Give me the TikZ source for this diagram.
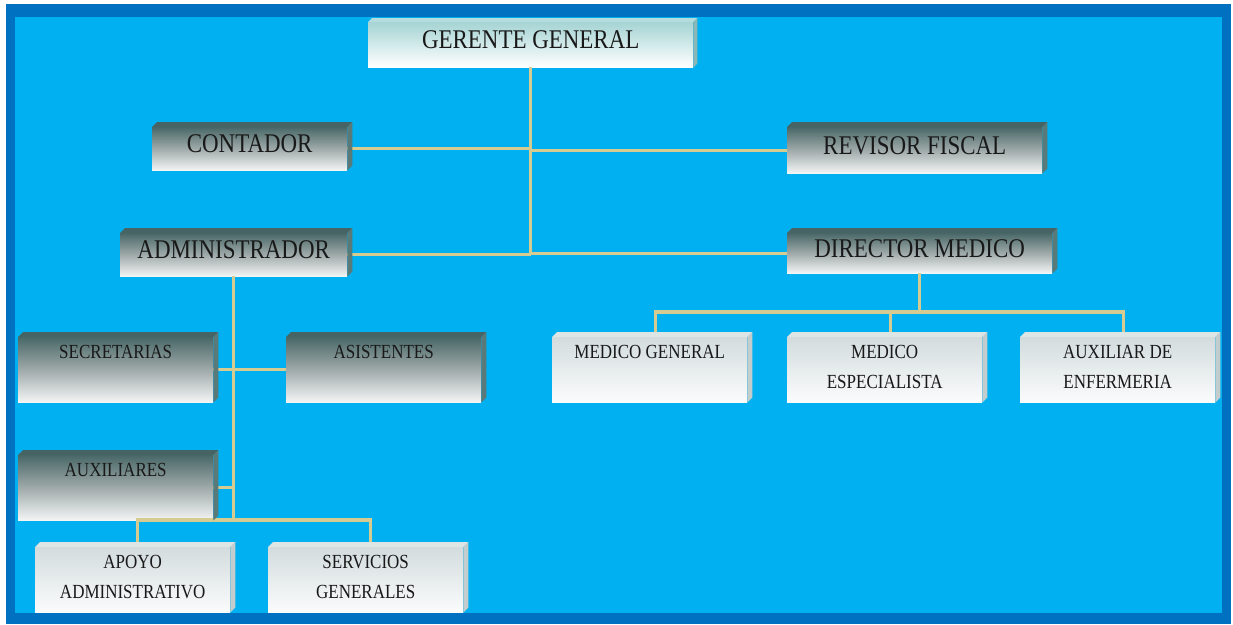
\documentclass[tikz,border=0pt]{standalone}
\usepackage{fontspec}
\setmainfont[FakeStretch=0.85]{Liberation Serif}
\usetikzlibrary{calc}
\definecolor{framedark}{HTML}{0070C0}
\definecolor{framelight}{HTML}{00B0F0}
\definecolor{linetan}{HTML}{D6CC92}
\definecolor{darktop}{HTML}{4A6868}
\definecolor{darkmid}{HTML}{A0AAAA}
\definecolor{darkbot}{HTML}{F4F5F5}
\definecolor{darkside}{HTML}{5A7A7A}
\definecolor{darkcap}{HTML}{466464}
\definecolor{lighttop}{HTML}{D3DCDD}
\definecolor{lightbot}{HTML}{FBFCFC}
\definecolor{lightside}{HTML}{C3CDCE}
\definecolor{lightcap}{HTML}{DDE5E5}
\definecolor{headtop}{HTML}{A6D4D4}
\definecolor{headside}{HTML}{8DB6B6}
\definecolor{headcap}{HTML}{B5DCDC}
\tikzset{
  box/.style={anchor=north west, inner sep=0pt, align=center, text=black!90},
  bigbox/.style={box, font=\fontsize{27}{30}\selectfont, execute at end node={\rule[-10pt]{0pt}{0pt}}},
  smallbox/.style={box, font=\fontsize{20}{30}\selectfont, execute at end node={\rule[-6pt]{0pt}{0pt}}},
  darkfill/.style={top color=darktop, bottom color=darkbot, middle color=darkmid},
  lightfill/.style={top color=lighttop, bottom color=lightbot},
  headfill/.style={top color=headtop, bottom color=white},
  link/.style={draw=linetan, line width=3.2pt}
}
\begin{document}
\begin{tikzpicture}[x=1pt,y=-1pt]
\useasboundingbox (0,0) rectangle (1233,624);
\fill[white] (0,0) rectangle (1233,624);
\fill[framedark] (6,4) rectangle (1231,624);
\fill[framelight] (15,17) rectangle (1222,613);

% nodes (front faces)
\node[bigbox, headfill, minimum width=325pt, minimum height=45pt] (gerente) at (368,22) {GERENTE GENERAL};
\node[bigbox, darkfill, minimum width=195pt, minimum height=43pt] (contador) at (152,127) {CONTADOR};
\node[bigbox, darkfill, minimum width=255pt, minimum height=46pt] (revisor) at (787,127) {REVISOR FISCAL};
\node[bigbox, darkfill, minimum width=227pt, minimum height=43pt] (admin) at (120,233) {ADMINISTRADOR};
\node[bigbox, darkfill, minimum width=265pt, minimum height=40pt] (director) at (787,233) {DIRECTOR MEDICO};
\node[smallbox, darkfill, minimum width=195pt, minimum height=65pt] (secretarias) at (18,337) {SECRETARIAS\\~};
\node[smallbox, darkfill, minimum width=195pt, minimum height=65pt] (asistentes) at (286,337) {ASISTENTES\\~};
\node[smallbox, darkfill, minimum width=195pt, minimum height=65pt] (auxiliares) at (18,455) {AUXILIARES\\~};
\node[smallbox, lightfill, minimum width=195pt, minimum height=65pt] (apoyo) at (35,547) {APOYO\\ADMINISTRATIVO};
\node[smallbox, lightfill, minimum width=195pt, minimum height=65pt] (servicios) at (268,547) {SERVICIOS\\GENERALES};
\node[smallbox, lightfill, minimum width=195pt, minimum height=65pt] (medgen) at (552,337) {MEDICO GENERAL\\~};
\node[smallbox, lightfill, minimum width=195pt, minimum height=65pt] (medesp) at (787,337) {MEDICO\\ESPECIALISTA};
\node[smallbox, lightfill, minimum width=195pt, minimum height=65pt] (auxenf) at (1020,337) {AUXILIAR DE\\ENFERMERIA};

% junction coordinates
\coordinate (ga) at (gerente.south |- admin.east);
\coordinate (ab) at (admin.south |- 0,520);
\coordinate (db) at (director.south |- 0,312);

% connectors
\draw[link] (gerente.south) -- (ga);
\draw[link] (contador.east) -- (contador.east -| gerente.south);
\draw[link] (revisor.west) -- (revisor.west -| gerente.south);
\draw[link] (admin.east) -- (admin.east -| gerente.south);
\draw[link] (director.west) -- (director.west -| gerente.south);
\draw[link] (admin.south) -- (ab);
\draw[link] (secretarias.east) -- (asistentes.west);
\draw[link] (auxiliares.east) -- (auxiliares.east -| admin.south);
\draw[link] ([xshift=5pt]apoyo.north) |- (ab) -| ([xshift=5pt]servicios.north);
\draw[link] (director.south) -- (db);
\draw[link] ([xshift=6pt]medgen.north) |- (db) -| ([xshift=6pt]auxenf.north);
\draw[link] ([xshift=6pt]medesp.north) -- ([xshift=6pt]medesp.north |- db);

% bevels
\foreach \n/\cp/\sd/\d in {gerente/headcap/headside/4pt,
  contador/darkcap/darkside/5pt, revisor/darkcap/darkside/5pt,
  admin/darkcap/darkside/5pt, director/darkcap/darkside/5pt,
  secretarias/darkcap/darkside/5pt, asistentes/darkcap/darkside/5pt,
  auxiliares/darkcap/darkside/5pt,
  apoyo/lightcap/lightside/5pt, servicios/lightcap/lightside/5pt,
  medgen/lightcap/lightside/5pt, medesp/lightcap/lightside/5pt,
  auxenf/lightcap/lightside/5pt}{
  \fill[\cp] (\n.north west) -- ++(\d,\d) -- ($(\n.north east)+(\d,\d)$) -- (\n.north east) -- cycle;
  \fill[\sd] (\n.north east) -- ++(\d,\d) -- ($(\n.south east)+(\d,\d)$) -- (\n.south east) -- cycle;
}
\end{tikzpicture}
\end{document}
